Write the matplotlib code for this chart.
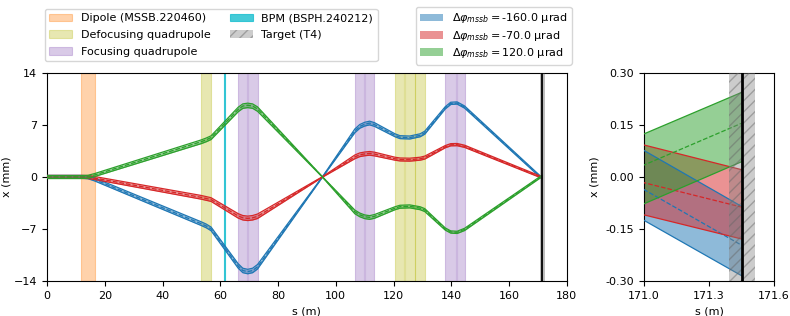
import numpy as np
import matplotlib.pyplot as plt

plt.rcParams['font.size'] = 8

# beam line elements (start, end) in m
dipole = [(11.7, 16.5)]
defocusing = [(53.4, 56.8), (120.5, 123.6), (123.9, 127.3), (127.6, 130.8)]
focusing = [(66.2, 69.2), (69.6, 72.9), (106.6, 109.7), (110.1, 113.4),
            (137.9, 141.5), (141.8, 144.6)]
bpm = (61.2, 61.8)
target = (171.39, 171.51)
target_s = 171.45

# trajectories
s = [0, 12, 14.2, 16.5, 53.4, 55.1, 56.8, 66.2, 67.8, 69.5, 71.2, 72.9, 95.4,
     106.6, 108.3, 110.0, 111.7, 113.4, 120.5, 122.2, 125.6, 129.2, 130.8,
     137.9, 139.8, 142.0, 144.6, 171.45]
x_blue = [0, 0, -0.05, -0.35, -6.3, -6.6, -7.0, -12.0, -12.6, -12.75, -12.6, -12.1, 0,
          6.2, 6.8, 7.1, 7.25, 7.05, 5.6, 5.35, 5.3, 5.6, 5.95,
          9.3, 9.9, 9.95, 9.4, -0.197]
x_red = [0, 0, -0.02, -0.15, -2.75, -2.9, -3.05, -5.25, -5.5, -5.58, -5.5, -5.3, 0,
         2.7, 2.98, 3.1, 3.17, 3.08, 2.45, 2.35, 2.32, 2.45, 2.6,
         4.07, 4.33, 4.35, 4.12, -0.087]
x_green = [0, 0, 0.04, 0.27, 4.75, 5.0, 5.3, 9.1, 9.55, 9.65, 9.55, 9.15, 0,
           -4.7, -5.1, -5.35, -5.45, -5.3, -4.2, -4.0, -3.95, -4.2, -4.45,
           -7.0, -7.4, -7.45, -7.05, 0.155]
half_width = [0.2, 0.2, 0.2, 0.2, 0.25, 0.25, 0.25, 0.3, 0.3, 0.3, 0.3, 0.3, 0.03,
              0.25, 0.25, 0.25, 0.25, 0.25, 0.2, 0.2, 0.2, 0.2, 0.2,
              0.15, 0.15, 0.15, 0.15, 0.1]
band_shift = {'blue': 0.012, 'red': 0.008, 'green': -0.011}
kicks = {'blue': -160.0, 'red': -70.0, 'green': 120.0}
series = [('blue', x_blue), ('red', x_red), ('green', x_green)]

s = np.array(s)
hw = np.array(half_width)

fig = plt.figure(figsize=(7.9, 3.16), dpi=100)
ax = fig.add_axes([0.0595, 0.111, 0.658, 0.658])
ax2 = fig.add_axes([0.815, 0.111, 0.165, 0.658])

for a in (ax, ax2):
    for s0, s1 in dipole:
        h_dip = a.axvspan(s0, s1, color='tab:orange', alpha=0.35, lw=0.8, zorder=1)
    for s0, s1 in defocusing:
        h_def = a.axvspan(s0, s1, color='tab:olive', alpha=0.35, lw=0.8, zorder=1)
    for s0, s1 in focusing:
        h_foc = a.axvspan(s0, s1, color='tab:purple', alpha=0.35, lw=0.8, zorder=1)
    h_bpm = a.axvspan(*bpm, color='tab:cyan', alpha=0.8, lw=0.8, zorder=1)
    lw_t = 3.5 if a is ax else 0
    h_tgt = a.axvspan(*target, facecolor=(0.5, 0.5, 0.5, 0.4),
                      edgecolor=(0.4, 0.4, 0.4, 0.45), hatch='///',
                      linewidth=lw_t, zorder=4)
    a.axvline(target_s, color='black', lw=1.3 if a is ax else 2, zorder=5)

    fills = []
    for name, xs in series:
        xs = np.array(xs)
        c = 'tab:' + name
        lo = xs - hw + band_shift[name]
        hi = xs + hw + band_shift[name]
        f = a.fill_between(s, lo, hi, color=c, alpha=0.5, lw=0, zorder=2,
                           label=r'$\Delta\varphi_{mssb} = $' + f'{kicks[name]:.1f} µrad')
        fills.append(f)
        a.plot(s, lo, color=c, lw=0.9, zorder=3)
        a.plot(s, hi, color=c, lw=0.9, zorder=3)
        a.plot(s, xs, color=c, lw=0.9, ls='--', zorder=3)

ax.set_xlim(0, 180)
ax.set_ylim(-14, 14)
ax.set_xticks(np.arange(0, 181, 20))
ax.set_yticks([-14, -7, 0, 7, 14])
ax.set_xlabel('s (m)')
ax.set_ylabel('x (mm)', labelpad=1.5)

ax2.set_xlim(171.0, 171.6)
ax2.set_ylim(-0.3, 0.3)
ax2.set_xticks([171.0, 171.3, 171.6])
ax2.set_yticks([-0.3, -0.15, 0.0, 0.15, 0.3])
ax2.xaxis.set_major_formatter(plt.FormatStrFormatter('%.1f'))
ax2.yaxis.set_major_formatter(plt.FormatStrFormatter('%.2f'))
ax2.set_xlabel('s (m)')
ax2.set_ylabel('x (mm)')

fig.legend([h_dip, h_def, h_foc, h_bpm, h_tgt],
           ['Dipole (MSSB.220460)', 'Defocusing quadrupole', 'Focusing quadrupole',
            'BPM (BSPH.240212)', 'Target (T4)'],
           ncol=2, loc='upper left', bbox_to_anchor=(0.057, 0.972),
           borderaxespad=0, labelspacing=0.6, columnspacing=1.8)
fig.legend(handles=fills, loc='upper left', bbox_to_anchor=(0.5266, 0.978),
           borderaxespad=0, labelspacing=0.3)

fig.savefig('out.png', dpi=100)
